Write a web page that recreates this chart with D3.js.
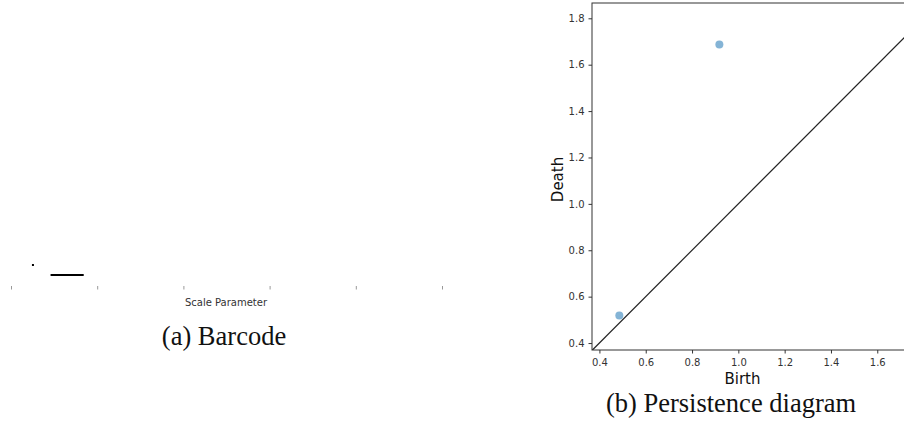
<!DOCTYPE html>
<html>
<head>
<meta charset="utf-8">
<script src="https://cdn.jsdelivr.net/npm/d3@7"></script>
<style>
  body { margin: 0; background: #fff; }
  svg { display: block; }
  .tick text { font-family: "DejaVu Sans", sans-serif; fill: #333; }
</style>
</head>
<body>
<div id="fig"></div>
<script>
// persistence pairs (H0/H1 features)
var births = [0.486, 0.918];
var deaths = [0.519, 1.687];

// tick labels
var barTicks = [0, 2, 4, 6, 8, 10];
var pdTicks = [0.4, 0.6, 0.8, 1.0, 1.2, 1.4, 1.6, 1.8];

var svgWidth = 904;
var svgHeight = 434;

var svg = d3.select("#fig")
  .append("svg")
  .attr("width", svgWidth)
  .attr("height", svgHeight);

// ---------- (a) Barcode ----------
var barX = d3.scaleLinear()
  .domain([0, 10])
  .range([11, 442]);

var barY = d3.scalePoint()
  .domain(d3.range(births.length))
  .range([255, 285])
  .padding(1);

var barGroup = svg.append("g");

barGroup.selectAll("line.bar")
  .data(births)
  .enter()
  .append("line")
  .attr("class", "bar")
  .attr("x1", d => barX(d))
  .attr("x2", (d, i) => Math.max(barX(deaths[i]), barX(d) + 2))
  .attr("y1", (d, i) => barY(i))
  .attr("y2", (d, i) => barY(i))
  .attr("stroke", "#000")
  .attr("stroke-width", 2);

var barAxis = barGroup.append("g")
  .attr("transform", "translate(0, 286)")
  .call(d3.axisBottom(barX).tickValues(barTicks).tickSize(3.5).tickFormat(""));
barAxis.select(".domain").remove();
barAxis.selectAll(".tick line").attr("stroke", "#999");

barGroup.append("text")
  .attr("x", 226)
  .attr("y", 306)
  .attr("text-anchor", "middle")
  .style("font-family", "DejaVu Sans, sans-serif")
  .style("font-size", "10px")
  .attr("fill", "#333")
  .text("Scale Parameter");

svg.append("text")
  .attr("x", 224)
  .attr("y", 345)
  .attr("text-anchor", "middle")
  .style("font-family", "Liberation Serif, serif")
  .style("font-size", "26.5px")
  .attr("fill", "#111")
  .text("(a) Barcode");

// ---------- (b) Persistence diagram ----------
var margin = { left: 592, top: 3 };
var pdWidth = 317;
var pdHeight = 347;

var xScale = d3.scaleLinear()
  .domain([0.368, 1.737])
  .range([0, pdWidth]);

var yScale = d3.scaleLinear()
  .domain([0.370, 1.866])
  .range([pdHeight, 0]);

var chartGroup = svg.append("g")
  .attr("transform", `translate(${margin.left}, ${margin.top})`);

chartGroup.append("clipPath")
  .attr("id", "pdclip")
  .append("rect")
  .attr("width", pdWidth)
  .attr("height", pdHeight);

// diagonal
var lo = 0.3, hi = 2.0;
chartGroup.append("line")
  .attr("clip-path", "url(#pdclip)")
  .attr("x1", xScale(lo))
  .attr("y1", yScale(lo))
  .attr("x2", xScale(hi))
  .attr("y2", yScale(hi))
  .attr("stroke", "#222")
  .attr("stroke-width", 1.2);

chartGroup.selectAll("circle")
  .data(births)
  .enter()
  .append("circle")
  .attr("cx", d => xScale(d))
  .attr("cy", (d, i) => yScale(deaths[i]))
  .attr("r", 4)
  .attr("fill", "#1f77b4")
  .attr("opacity", 0.55);

var xAxis = chartGroup.append("g")
  .attr("transform", `translate(0, ${pdHeight})`)
  .call(d3.axisBottom(xScale).tickValues(pdTicks.filter(t => t < 1.7)).tickSize(3.5).tickPadding(5).tickFormat(d3.format(".1f")));

var yAxis = chartGroup.append("g")
  .call(d3.axisLeft(yScale).tickValues(pdTicks).tickSize(3.5).tickPadding(4).tickFormat(d3.format(".1f")));

[xAxis, yAxis].forEach(function (ax) {
  ax.selectAll(".tick text").style("font-size", "10px");
  ax.selectAll(".tick line").attr("stroke", "#333");
  ax.select(".domain").remove();
});

// spines
chartGroup.append("rect")
  .attr("width", pdWidth)
  .attr("height", pdHeight)
  .attr("fill", "none")
  .attr("stroke", "#333")
  .attr("stroke-width", 1);

chartGroup.append("text")
  .attr("x", pdWidth / 2 - 8)
  .attr("y", pdHeight + 34)
  .attr("text-anchor", "middle")
  .style("font-family", "DejaVu Sans, sans-serif")
  .style("font-size", "15px")
  .attr("fill", "#111")
  .text("Birth");

chartGroup.append("text")
  .attr("transform", "rotate(-90)")
  .attr("x", -(pdHeight / 2) - 3)
  .attr("y", -29)
  .attr("text-anchor", "middle")
  .style("font-family", "DejaVu Sans, sans-serif")
  .style("font-size", "15px")
  .attr("fill", "#111")
  .text("Death");

svg.append("text")
  .attr("x", 731)
  .attr("y", 412)
  .attr("text-anchor", "middle")
  .style("font-family", "Liberation Serif, serif")
  .style("font-size", "26.5px")
  .attr("fill", "#111")
  .text("(b) Persistence diagram");
</script>
</body>
</html>
